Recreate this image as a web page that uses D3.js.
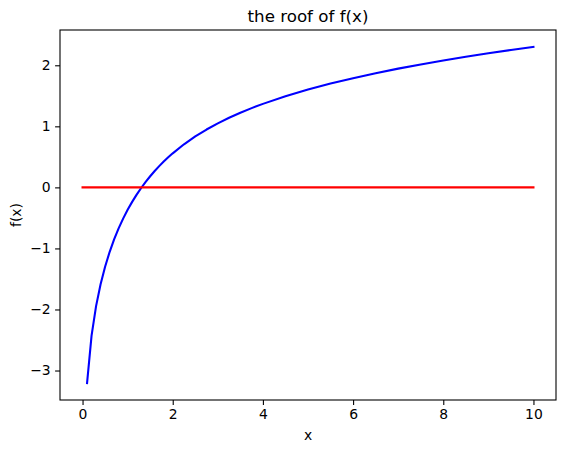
<!DOCTYPE html>
<html>
<head>
<meta charset="utf-8">
<script src="https://cdn.jsdelivr.net/npm/d3@7"></script>
<style>
  html, body { margin: 0; padding: 0; background: #fff; }
  svg { display: block; }
  text { font-family: "DejaVu Sans", sans-serif; fill: #000; }
</style>
</head>
<body>
<svg id="chart" width="565" height="453"></svg>
<script>
// ---- data ----
const xValues = [0.1,0.2,0.3,0.4,0.5,0.6,0.7,0.8,0.9,1.0,1.1,1.2,1.3,1.4,1.5,1.6,1.7,1.8,1.9,2.0,
  2.25,2.5,2.75,3.0,3.25,3.5,3.75,4.0,4.5,5.0,5.5,6.0,6.5,7.0,7.5,8.0,8.5,9.0,9.5,10.0];
const fValues = [-3.2074,-2.4282,-1.9448,-1.5866,-1.2997,-1.0596,-0.8533,-0.6725,-0.5119,-0.3679,
  -0.2376,-0.1189,-0.0102,0.0899,0.1823,0.2681,0.3479,0.4225,0.4923,0.5578,
  0.7055,0.8342,0.9477,1.0488,1.1399,1.2226,1.2982,1.3680,1.4930,1.6027,
  1.7007,1.7893,1.8703,1.9450,2.0144,2.0791,2.1399,2.1971,2.2512,2.3025];
const zeroX = [0, 10];
const zeroY = [0, 0];
const xTicks = [0, 2, 4, 6, 8, 10];
const yTicks = [-3, -2, -1, 0, 1, 2];
const titleText = "the roof of f(x)";
const xLabel = "x";
const yLabel = "f(x)";

// ---- layout ----
const L = 60, R = 556, T = 30, B = 400;
const svg = d3.select("#chart");

const allX = xValues.concat(zeroX);
const allY = fValues.concat(zeroY);
const [x0, x1] = d3.extent(allX);
const [y0, y1] = d3.extent(allY);
const mx = (x1 - x0) * 0.05, my = (y1 - y0) * 0.05;

const x = d3.scaleLinear().domain([x0 - mx, x1 + mx]).range([L, R]);
const y = d3.scaleLinear().domain([y0 - my, y1 + my]).range([B, T]);

const minus = s => String(s).replace("-", "\u2212");

// axes
const xAxis = d3.axisBottom(x).tickValues(xTicks).tickSize(4.9).tickPadding(4.5)
  .tickFormat(d => minus(d));
const yAxis = d3.axisLeft(y).tickValues(yTicks).tickSize(4.9).tickPadding(4.5)
  .tickFormat(d => minus(d));

const gx = svg.append("g").attr("transform", `translate(0,${B})`).call(xAxis);
const gy = svg.append("g").attr("transform", `translate(${L},0)`).call(yAxis);
[gx, gy].forEach(g => {
  g.select(".domain").remove();
  g.selectAll(".tick line").attr("stroke", "#000").attr("stroke-width", 1.1);
  g.selectAll(".tick text").style("font-size", "13.9px").style("font-family", "DejaVu Sans, sans-serif").attr("fill", "#000");
});

// lines
const line = d3.line().x(d => x(d[0])).y(d => y(d[1]));
svg.append("path")
  .datum(xValues.map((v, i) => [v, fValues[i]]))
  .attr("d", line).attr("fill", "none").attr("stroke", "#0000ff")
  .attr("stroke-width", 2.08).attr("stroke-linejoin", "round").attr("stroke-linecap", "square");
svg.append("path")
  .datum(zeroX.map((v, i) => [v, zeroY[i]]))
  .attr("d", line).attr("fill", "none").attr("stroke", "#ff0000")
  .attr("stroke-width", 2.08).attr("stroke-linecap", "square");

// frame
svg.append("rect").attr("x", L).attr("y", T).attr("width", R - L).attr("height", B - T)
  .attr("fill", "none").attr("stroke", "#000").attr("stroke-width", 1.1);

// title & labels
svg.append("text").attr("x", (L + R) / 2).attr("y", 22).attr("text-anchor", "middle")
  .style("font-size", "16.7px").text(titleText);
svg.append("text").attr("x", (L + R) / 2).attr("y", 440).attr("text-anchor", "middle")
  .style("font-size", "13.9px").text(xLabel);
svg.append("text").attr("transform", `translate(21,${(T + B) / 2}) rotate(-90)`)
  .attr("text-anchor", "middle").style("font-size", "13.9px").text(yLabel);
</script>
</body>
</html>
